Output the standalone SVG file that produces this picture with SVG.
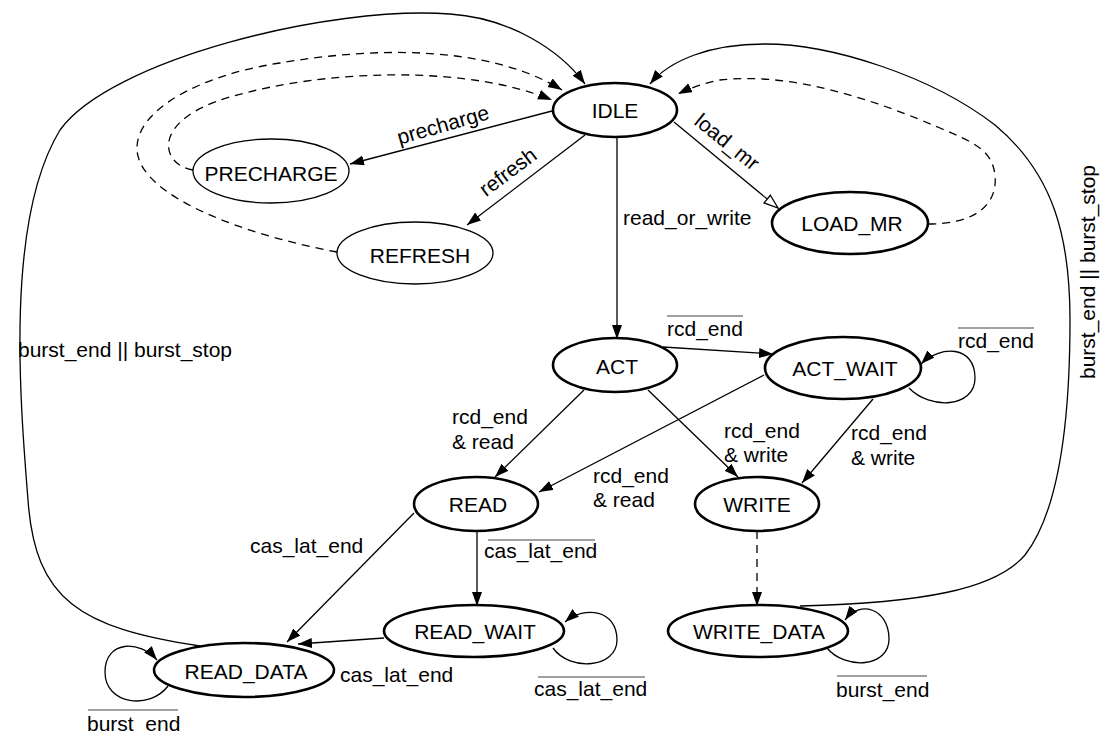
<svg xmlns="http://www.w3.org/2000/svg" width="1103" height="734" viewBox="0 0 1103 734">
<defs>
<style>
text{font-family:"Liberation Sans",Arial,sans-serif;font-size:21px;fill:#000}
.nt{text-anchor:middle}
.thick{fill:#fff;stroke:#000;stroke-width:2.6}
.thin{fill:#fff;stroke:#000;stroke-width:1.3}
.c{fill:none;stroke:#000;stroke-width:1.3;marker-end:url(#arr)}
.d{stroke-dasharray:8 6}
.ov{stroke:#444;stroke-width:1.2}
</style>
<marker id="arr" markerUnits="userSpaceOnUse" markerWidth="16" markerHeight="12" refX="14" refY="5" orient="auto">
<path d="M0,0 L14,5 L0,10 Z" fill="#000"/>
</marker>
<marker id="oarr" markerUnits="userSpaceOnUse" markerWidth="18" markerHeight="14" refX="15" refY="6" orient="auto">
<path d="M1,1 L15,6 L1,11 Z" fill="#fff" stroke="#000" stroke-width="1.3"/>
</marker>
</defs>
<rect width="1103" height="734" fill="#fff"/>
<g id="connectors">
<line class="c" x1="552" y1="111" x2="350" y2="164"/>
<line class="c" x1="585" y1="135" x2="467" y2="225"/>
<line x1="674" y1="122" x2="778" y2="208" fill="none" stroke="#000" stroke-width="1.3" marker-end="url(#oarr)"/>
<line class="c" x1="617" y1="137" x2="617" y2="339"/>
<path class="c d" d="M193,170 C160,165 150,120 230,97 C330,68 470,66 552,100"/>
<path class="c d" d="M337,252 C250,236 140,198 137,150 C135,110 200,75 280,63 C380,46 490,46 562,90"/>
<path class="c" d="M200,646 C80,628 35,600 28,500 C20,400 5,220 60,130 C110,60 330,5 450,14 C510,18 560,50 585,84"/>
<path class="c" d="M800,606 C920,603 995,590 1025,555 C1060,510 1070,420 1070,320 C1070,240 1055,175 995,125 C930,75 830,44 765,44 C710,44 670,60 650,84"/>
<path class="c d" d="M928,224 C975,224 998,205 995,175 C992,150 975,143 940,128 C870,98 790,72 720,80 C705,83 690,88 678,94"/>
<line class="c" x1="663" y1="347" x2="773" y2="354"/>
<path class="c" d="M909,388 C930,410 975,408 975,378 C975,345 940,345 921,364"/>
<line class="c" x1="584" y1="390" x2="495" y2="477"/>
<line class="c" x1="764" y1="375" x2="539" y2="492"/>
<line class="c" x1="648" y1="390" x2="738" y2="477"/>
<line class="c" x1="873" y1="399" x2="802" y2="483"/>
<line class="c" x1="414" y1="513" x2="287" y2="642"/>
<line class="c" x1="477" y1="531" x2="477" y2="606"/>
<line class="c" x1="384" y1="638" x2="298" y2="644"/>
<path class="c" d="M553,648 C570,672 617,668 617,640 C617,610 585,605 565,622"/>
<path class="c" d="M168,686 C150,710 105,705 105,672 C105,640 140,640 157,660"/>
<line class="c d" x1="757" y1="531" x2="757" y2="606"/>
<path class="c" d="M827,648 C845,670 890,668 889,638 C888,608 860,600 845,620"/>
</g>
<g id="labels">
<text transform="translate(443,125) rotate(-16)" class="nt" y="7">precharge</text>
<text transform="translate(508,172) rotate(-37)" class="nt" y="7">refresh</text>
<text transform="translate(727,142) rotate(39)" class="nt" y="7">load_mr</text>
<text x="623" y="225">read_or_write</text>
<text x="667" y="336">rcd_end</text>
<line class="ov" x1="667" y1="316" x2="743" y2="316"/>
<text x="958" y="348">rcd_end</text>
<line class="ov" x1="958" y1="328" x2="1034" y2="328"/>
<text x="452" y="424">rcd_end</text>
<text x="452" y="449">&amp; read</text>
<text x="593" y="483">rcd_end</text>
<text x="593" y="507">&amp; read</text>
<text x="724" y="438">rcd_end</text>
<text x="724" y="462">&amp; write</text>
<text x="851" y="440">rcd_end</text>
<text x="851" y="465">&amp; write</text>
<text x="250" y="553">cas_lat_end</text>
<text x="484" y="558">cas_lat_end</text>
<line class="ov" x1="488" y1="540" x2="595" y2="540"/>
<text x="340" y="682">cas_lat_end</text>
<text x="534" y="696">cas_lat_end</text>
<line class="ov" x1="538" y1="677" x2="645" y2="677"/>
<text x="87" y="731">burst_end</text>
<line class="ov" x1="88" y1="710" x2="178" y2="710"/>
<text x="836" y="697">burst_end</text>
<line class="ov" x1="837" y1="676" x2="927" y2="676"/>
<text x="18" y="357">burst_end || burst_stop</text>
<text transform="translate(1095,379) rotate(-90)">burst_end || burst_stop</text>
</g>
<g id="IDLE"><ellipse class="thick" cx="615" cy="110" rx="62" ry="27"/><text class="nt" x="615" y="118">IDLE</text></g>
<g id="PRECHARGE"><ellipse class="thin" cx="271" cy="171" rx="78" ry="32"/><text class="nt" x="271" y="181">PRECHARGE</text></g>
<g id="REFRESH"><ellipse class="thin" cx="415" cy="253" rx="78" ry="31"/><text class="nt" x="420" y="263">REFRESH</text></g>
<g id="LOAD_MR"><ellipse class="thick" cx="850" cy="223" rx="78" ry="31"/><text class="nt" x="852" y="231">LOAD_MR</text></g>
<g id="ACT"><ellipse class="thick" cx="615" cy="365" rx="62" ry="27"/><text class="nt" x="617" y="374">ACT</text></g>
<g id="ACT_WAIT"><ellipse class="thick" cx="843" cy="368" rx="78" ry="31"/><text class="nt" x="845" y="376">ACT_WAIT</text></g>
<g id="READ"><ellipse class="thick" cx="476" cy="504" rx="62" ry="27"/><text class="nt" x="478" y="512">READ</text></g>
<g id="WRITE"><ellipse class="thick" cx="757" cy="504" rx="62" ry="27"/><text class="nt" x="757" y="512">WRITE</text></g>
<g id="READ_WAIT"><ellipse class="thick" cx="474" cy="631" rx="90" ry="26"/><text class="nt" x="475" y="639">READ_WAIT</text></g>
<g id="READ_DATA"><ellipse class="thick" cx="244" cy="670" rx="90" ry="27"/><text class="nt" x="246" y="679">READ_DATA</text></g>
<g id="WRITE_DATA"><ellipse class="thick" cx="758" cy="631" rx="90" ry="26"/><text class="nt" x="759" y="639">WRITE_DATA</text></g>
</svg>
